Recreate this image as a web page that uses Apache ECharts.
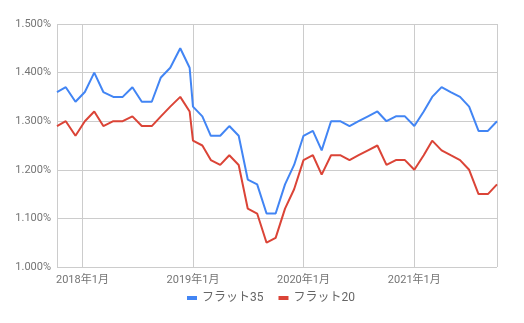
<!DOCTYPE html>
<html>
<head>
<meta charset="utf-8">
<script src="https://cdn.jsdelivr.net/npm/echarts@6/dist/echarts.min.js"></script>
<style>
html,body{margin:0;padding:0;background:#fff;}
#c{width:524px;height:323px;}
</style>
</head>
<body>
<div id="c"></div>
<script>
var dates = [
  '2017-10-09','2017-11-07','2017-12-09','2018-01-09','2018-02-09','2018-03-11',
  '2018-04-13','2018-05-14','2018-06-15','2018-07-16','2018-08-18','2018-09-17',
  '2018-10-18','2018-11-20','2018-12-21',
  '2019-01-01','2019-02-01','2019-03-01','2019-04-01','2019-05-01','2019-06-01',
  '2019-07-01','2019-08-01','2019-09-01','2019-10-01','2019-11-01','2019-12-01',
  '2020-01-01','2020-02-01','2020-03-01','2020-04-01','2020-05-01','2020-06-01',
  '2020-07-01','2020-08-01','2020-09-01','2020-10-01','2020-11-01','2020-12-01',
  '2021-01-01','2021-02-01','2021-03-01','2021-04-01','2021-05-01','2021-06-01',
  '2021-07-01','2021-08-01','2021-09-01','2021-10-01'
];
// フラット35 (%)
var flat35 = [
  1.36,1.37,1.34,1.36,1.40,1.36,1.35,1.35,1.37,1.34,1.34,1.39,1.41,1.45,1.41,
  1.33,1.31,1.27,1.27,1.29,1.27,1.18,1.17,1.11,1.11,1.17,1.21,
  1.27,1.28,1.24,1.30,1.30,1.29,1.30,1.31,1.32,1.30,1.31,1.31,
  1.29,1.32,1.35,1.37,1.36,1.35,1.33,1.28,1.28,1.30
];
// フラット20 (%)
var flat20 = [
  1.29,1.30,1.27,1.30,1.32,1.29,1.30,1.30,1.31,1.29,1.29,1.31,1.33,1.35,1.32,
  1.26,1.25,1.22,1.21,1.23,1.21,1.12,1.11,1.05,1.06,1.12,1.16,
  1.22,1.23,1.19,1.23,1.23,1.22,1.23,1.24,1.25,1.21,1.22,1.22,
  1.20,1.23,1.26,1.24,1.23,1.22,1.20,1.15,1.15,1.17
];
var seriesNames = ['フラット35','フラット20'];
var yMin = 1.0, yMax = 1.5, yStep = 0.1;

function pairs(vals){ return vals.map(function(v,i){ return [dates[i], v]; }); }

var chart = echarts.init(document.getElementById('c'), null, {renderer:'canvas'});
var font = 'Roboto, "Noto Sans CJK JP", sans-serif';
chart.setOption({
  animation:false,
  backgroundColor:'#ffffff',
  grid:{left:57, right:27, top:24, bottom:56, containLabel:false},
  legend:{
    data:seriesNames, left:182, bottom:14,
    icon:'rect', itemWidth:10, itemHeight:4, itemGap:15,
    textStyle:{fontFamily:font, fontSize:12, color:'#666666'}
  },
  xAxis:{
    type:'time',
    min:dates[0], max:dates[dates.length-1],
    minInterval:365*24*3600*1000,
    maxInterval:366*24*3600*1000,
    axisLine:{show:false}, axisTick:{show:false},
    splitLine:{show:true, lineStyle:{color:'#cccccc', width:1}},
    axisLabel:{
      fontFamily:font, fontSize:11, color:'#757575', margin:8,
      showMinLabel:false, showMaxLabel:false,
      formatter:function(v){ var d=new Date(v); return d.getFullYear()+'年'+(d.getMonth()+1)+'月'; }
    }
  },
  yAxis:{
    type:'value', min:yMin, max:yMax, interval:yStep,
    axisLine:{show:false}, axisTick:{show:false},
    splitLine:{lineStyle:{color:'#cccccc', width:1}},
    axisLabel:{fontFamily:font, fontSize:11, color:'#757575', margin:6,
      formatter:function(v){ return v.toFixed(3)+'%'; }}
  },
  series:[
    {name:seriesNames[0], type:'line', data:pairs(flat35), showSymbol:false, symbol:'none',
     lineStyle:{color:'#4285f4', width:2}, itemStyle:{color:'#4285f4'}},
    {name:seriesNames[1], type:'line', data:pairs(flat20), showSymbol:false, symbol:'none',
     lineStyle:{color:'#db4437', width:2}, itemStyle:{color:'#db4437'}}
  ]
});
</script>
</body>
</html>
